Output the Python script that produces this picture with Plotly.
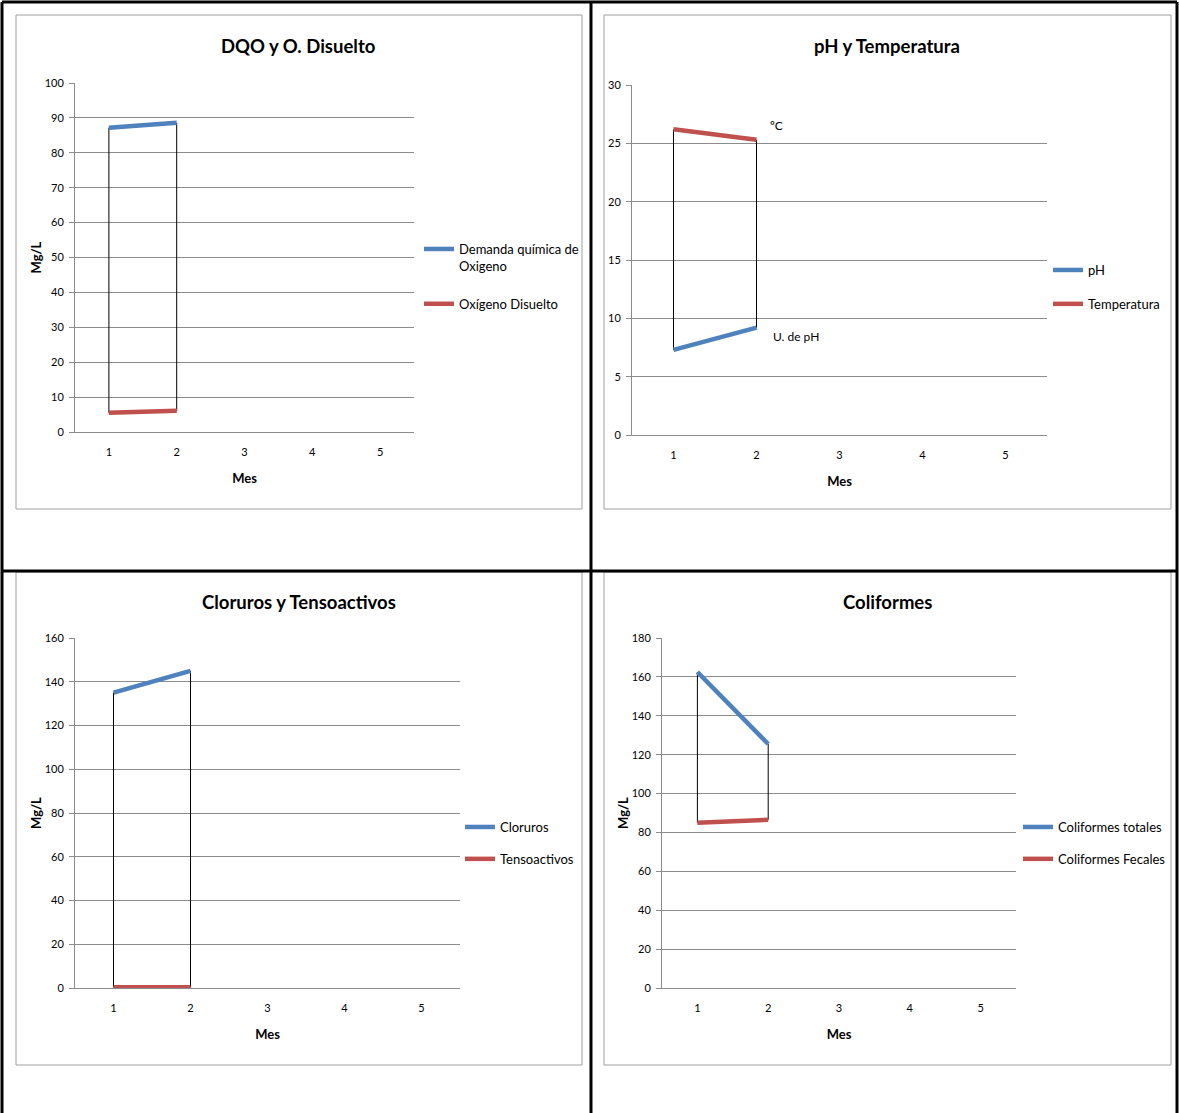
import plotly.graph_objects as go

W, H = 1179, 1113

# ---------------- data ----------------
meses = [1, 2, 3, 4, 5]
meses_datos = [1, 2]

dqo = [87.2, 88.6]          # Demanda química de Oxigeno
od = [5.5, 6.1]             # Oxígeno Disuelto
ph = [7.3, 9.2]             # pH
temperatura = [26.2, 25.3]  # Temperatura
cloruros = [135, 145]
tensoactivos = [0.3, 0.3]
col_totales = [162.5, 125.5]
col_fecales = [85, 86.5]

titulos = ["DQO y O. Disuelto", "pH y Temperatura", "Cloruros y Tensoactivos", "Coliformes"]
nombres = [
    ["Demanda química de<br>Oxigeno", "Oxígeno Disuelto"],
    ["pH", "Temperatura"],
    ["Cloruros", "Tensoactivos"],
    ["Coliformes totales", "Coliformes Fecales"],
]
series = [[dqo, od], [ph, temperatura], [cloruros, tensoactivos], [col_totales, col_fecales]]
etiquetas_ph = ["U. de pH", "ºC"]

BLUE = "#4F81BD"
RED = "#C0504D"
GRID = "#8C8C8C"
FONT = "Lato, Roboto, sans-serif"


def px(x):
    return x / W


def py(y):
    return 1 - y / H


# layout geometry (pixels): plot area, chart box, y-range, dtick, legend, title pos, y title
charts = [
    dict(plot=(75, 414, 83, 432), box=(16, 582, 15, 509), yr=100, dt=10,
         leg=(419, 234), gap=18, title=(298, 46), ytitle=True),
    dict(plot=(632, 1047, 85, 435), box=(604, 1171, 15, 509), yr=30, dt=5,
         leg=(1048, 255), gap=14, title=(887, 46), ytitle=False),
    dict(plot=(75, 460, 638, 988), box=(16, 582, 572, 1065), yr=160, dt=20,
         leg=(460, 812), gap=12, title=(299, 602), ytitle=True),
    dict(plot=(662, 1016, 638, 988), box=(604, 1171, 572, 1065), yr=180, dt=20,
         leg=(1018, 812), gap=12, title=(887, 602), ytitle=True),
]

fig = go.Figure()
layout = dict(
    width=W, height=H, margin=dict(l=0, r=0, t=0, b=0, autoexpand=False),
    paper_bgcolor="white", plot_bgcolor="white",
    font=dict(family=FONT, color="#000000", size=12),
    showlegend=True, shapes=[], annotations=[],
)

for i, c in enumerate(charts):
    n = i + 1
    xa = "x" if n == 1 else f"x{n}"
    ya = "y" if n == 1 else f"y{n}"
    xkey = "xaxis" if n == 1 else f"xaxis{n}"
    ykey = "yaxis" if n == 1 else f"yaxis{n}"
    lkey = "legend" if n == 1 else f"legend{n}"
    x0, x1, y0, y1 = c["plot"]

    layout[xkey] = dict(
        domain=[px(x0), px(x1)], anchor=ya, range=[0.5, 5.5], automargin=False,
        tickvals=meses, ticktext=[str(m) for m in meses], showgrid=False,
        showline=True, linecolor=GRID, linewidth=1, ticks="", zeroline=False,
        tickfont=dict(size=11, family=FONT), fixedrange=True, ticklabelstandoff=10,
        title=dict(text="<b>Mes</b>", font=dict(size=13, family=FONT), standoff=16),
    )
    layout[ykey] = dict(
        domain=[py(y1), py(y0)], anchor=xa, range=[0, c["yr"]], dtick=c["dt"],
        automargin=False,
        showgrid=True, gridcolor=GRID, gridwidth=1, showline=True, linecolor=GRID,
        linewidth=1, ticks="outside", ticklen=5, tickcolor=GRID, zeroline=False,
        tickfont=dict(size=11, family=FONT), fixedrange=True, ticklabelstandoff=3,
    )
    if c["ytitle"]:
        layout[ykey]["title"] = dict(text="<b>Mg/L</b>", font=dict(size=13, family=FONT), standoff=0)

    # high-low lines derived from the series
    a, b = series[i]
    for k, m in enumerate(meses_datos):
        lo, hi = min(a[k], b[k]), max(a[k], b[k])
        fig.add_trace(go.Scatter(x=[m, m], y=[lo, hi], mode="lines",
                                 line=dict(color="black", width=1), showlegend=False,
                                 hoverinfo="skip", xaxis=xa, yaxis=ya))

    for s, (vals, col) in enumerate(zip(series[i], [BLUE, RED])):
        fig.add_trace(go.Scatter(
            x=meses_datos, y=vals, mode="lines", name=nombres[i][s],
            line=dict(color=col, width=4.5), xaxis=xa, yaxis=ya,
            legend=lkey, legendgroup=f"g{n}{s}",
        ))

    lx, ly = c["leg"]
    layout[lkey] = dict(
        x=px(lx), y=py(ly), xanchor="left", yanchor="top", bgcolor="rgba(0,0,0,0)",
        font=dict(size=13, family=FONT), tracegroupgap=c["gap"], valign="top",
        itemwidth=30,
    )

    # chart box
    bx0, bx1, by0, by1 = c["box"]
    layout["shapes"].append(dict(type="rect", xref="paper", yref="paper",
                                 x0=px(bx0), x1=px(bx1), y0=py(by1), y1=py(by0),
                                 line=dict(color="#A0A0A0", width=1), layer="below"))
    tx, ty = c["title"]
    layout["annotations"].append(dict(
        text=f"<b>{titulos[i]}</b>", x=px(tx), y=py(ty), xref="paper", yref="paper",
        xanchor="center", yanchor="middle", showarrow=False,
        font=dict(size=18.5, family=FONT, color="#000000")))

# data labels on the pH & temperature chart (at last data point)
for vals, lab, dx, dy in [(ph, etiquetas_ph[0], 14, -9), (temperatura, etiquetas_ph[1], 11, 14)]:
    layout["annotations"].append(dict(
        text=lab, x=meses_datos[-1], y=vals[-1], xref="x2", yref="y2",
        xanchor="left", yanchor="middle", xshift=dx, yshift=dy, showarrow=False,
        font=dict(size=12, family=FONT, color="#000000")))

# table grid lines (black)
for (x0, y0, x1, y1) in [(2, 2, 1177, 2), (2, 2, 2, 1113), (591, 2, 591, 1113),
                          (1177, 2, 1177, 1113), (2, 571, 1177, 571)]:
    layout["shapes"].append(dict(type="line", xref="paper", yref="paper",
                                 x0=px(x0), x1=px(x1), y0=py(y0), y1=py(y1),
                                 line=dict(color="black", width=3)))

fig.update_layout(**layout)
fig.write_html(
    "out.html",
    config={"displayModeBar": False},
    post_script=(
        "document.body.style.margin='0';document.body.style.overflow='hidden';"
        "var d=document.getElementById('{plot_id}');"
        "d.style.position='absolute';d.style.left='0px';d.style.top='0px';"
    ),
)
